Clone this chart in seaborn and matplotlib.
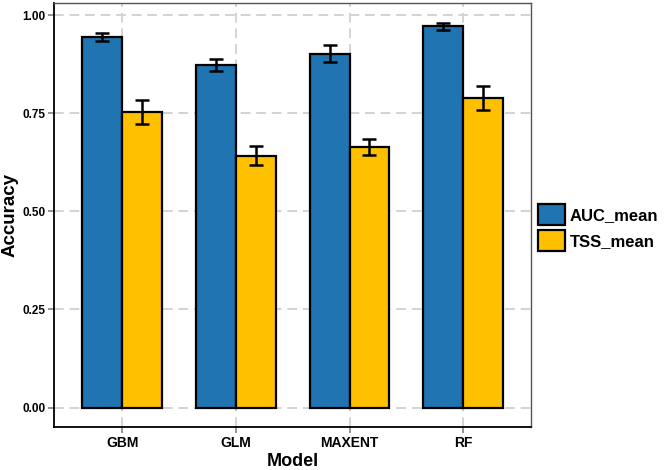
import numpy as np
import pandas as pd
import matplotlib
matplotlib.use("Agg")
import matplotlib.pyplot as plt
import seaborn as sns

# values
models = ["GBM", "GLM", "MAXENT", "RF"]
auc_mean = [0.944, 0.873, 0.902, 0.972]
auc_err = [0.010, 0.015, 0.021, 0.009]
tss_mean = [0.753, 0.642, 0.664, 0.789]
tss_err = [0.030, 0.025, 0.020, 0.030]

metrics = ["AUC_mean", "TSS_mean"]
palette = {"AUC_mean": "#1F74B1", "TSS_mean": "#FFC000"}

df = pd.DataFrame({
    "Model": models * 2,
    "metric": ["AUC_mean"] * 4 + ["TSS_mean"] * 4,
    "value": auc_mean + tss_mean,
    "err": auc_err + tss_err,
})

sns.set_theme(style="white")
plt.rcParams["font.family"] = ["Liberation Sans", "DejaVu Sans"]
plt.rcParams["font.weight"] = "bold"
plt.rcParams["text.color"] = "black"
plt.rcParams["axes.labelcolor"] = "black"

fig = plt.figure(figsize=(6.66, 4.70), dpi=100)
ax = fig.add_axes([0.081, 0.092, 0.717, 0.901])

sns.barplot(data=df, x="Model", y="value", hue="metric", hue_order=metrics,
            palette=palette, width=0.7, errorbar=None, edgecolor="black",
            linewidth=1.6, saturation=1, ax=ax, zorder=3)

# error bars at the centre of each bar
for patch_group, metric in zip(ax.containers, metrics):
    sub = df[df["metric"] == metric]
    xs = [p.get_x() + p.get_width() / 2 for p in patch_group]
    ax.errorbar(xs, sub["value"].values, yerr=sub["err"].values, fmt="none",
                ecolor="black", elinewidth=1.8, capsize=5, capthick=1.8, zorder=4)

ax.set_xlim(-0.6, 3.6)
ax.set_ylim(-0.049, 1.03)
ax.set_yticks([0, 0.25, 0.5, 0.75, 1.0])
ax.set_yticklabels(["0.00", "0.25", "0.50", "0.75", "1.00"])

ax.grid(True, which="major", axis="both", color="#D3D3D3", linestyle=(0, (5, 3)),
        linewidth=1.4, zorder=0)
ax.set_axisbelow(True)

for side in ["top", "right"]:
    ax.spines[side].set_color("#555555")
    ax.spines[side].set_linewidth(1.0)
for side in ["left", "bottom"]:
    ax.spines[side].set_color("black")
    ax.spines[side].set_linewidth(1.3)

ax.tick_params(axis="both", direction="out", length=4, width=1.2, color="#808080",
               bottom=True, left=True)
ax.tick_params(axis="y", labelsize=8.5, pad=2)
ax.tick_params(axis="x", labelsize=10, pad=3)
for lab in ax.get_xticklabels() + ax.get_yticklabels():
    lab.set_fontweight("bold")
    lab.set_color("black")

ax.set_xlabel("Model", fontsize=13, fontweight="bold", labelpad=2)
ax.set_ylabel("Accuracy", fontsize=13.5, fontweight="bold", labelpad=3)

handles, labels = ax.get_legend_handles_labels()
for h in handles:
    h.set_edgecolor("black")
    h.set_linewidth(1.6)
ax.legend(handles, labels, loc="center left", bbox_to_anchor=(0.808, 0.516),
          bbox_transform=fig.transFigure, frameon=False, fontsize=12,
          handlelength=1.6, handleheight=1.6, labelspacing=0.3,
          handletextpad=0.3, borderaxespad=0, borderpad=0)
for t in ax.get_legend().get_texts():
    t.set_fontweight("bold")

fig.savefig("out.png", dpi=100)
